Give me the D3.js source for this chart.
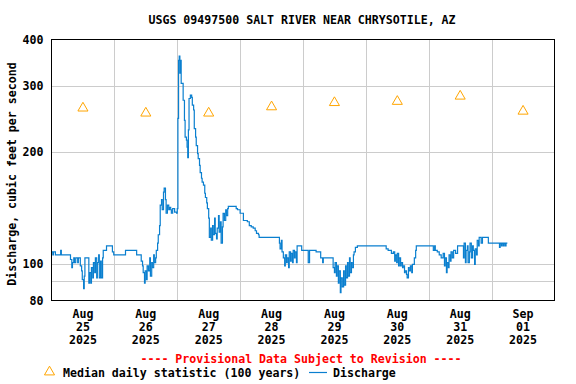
<!DOCTYPE html>
<html>
<head>
<meta charset="UTF-8">
<title>USGS 09497500 Salt River near Chrysotile, AZ</title>
<script src="https://d3js.org/d3.v7.min.js"></script>
<style>
  html, body { margin: 0; padding: 0; background: #fff; }
  svg { display: block; font-family: "DejaVu Sans Mono", "Liberation Mono", monospace; font-weight: bold; font-size: 11.6px; }
  .grid line { stroke: #cccccc; stroke-width: 1; shape-rendering: crispEdges; }
</style>
</head>
<body>
<svg id="chart" width="576" height="384"></svg>
<script>
// --- data ---
const title = "USGS 09497500 SALT RIVER NEAR CHRYSOTILE, AZ";
const startDate = Date.UTC(2025, 7, 25); // Aug 25 2025 00:00
const dayLabels = [["Aug", "25", "2025"], ["Aug", "26", "2025"], ["Aug", "27", "2025"], ["Aug", "28", "2025"],
                   ["Aug", "29", "2025"], ["Aug", "30", "2025"], ["Aug", "31", "2025"], ["Sep", "01", "2025"]];
const yTicks = [80, 100, 200, 300, 400];
const yGrid = [90, 100, 200, 300];
// median daily statistic, one per day (cfs)
const medians = [262, 254, 254, 264, 271, 273, 282, 257];
// discharge: [hours since Aug 25 00:00, cfs]
const discharge = [
  [0,108],[0.5,106],[0.75,108],[1.5,106],[3.5,109],[3.75,106],[7.25,103],[7.75,98],[8,101],[8.5,104],
  [8.75,101],[9.25,104],[10,101],[10.25,104],[11,99],[11.5,96],[11.75,91],[12.25,86],[12.5,93],[12.75,104],
  [14.25,89],[14.5,95],[15,89],[15.25,98],[15.75,92],[16,101],[16.5,95],[16.75,104],[17.25,92],[17.5,101],
  [18,106],[18.25,92],[18.75,102],[19,92],[19.5,104],[19.75,109],[21,112],[23.25,108],[23.75,106],[28.25,109],
  [32.5,106],[34.25,102],[34.75,99],[35,95],[35.5,89],[35.75,96],[36.25,91],[36.5,99],[37,96],[37.5,104],
  [37.75,93],[38.25,101],[38.5,98],[39,106],[39.25,101],[39.75,104],[40,109],[40.5,114],[40.75,120],[41.25,127],
  [41.5,144],[42,149],[42.25,140],[42.75,156],[43,160],[43.5,149],[43.75,137],[44.25,144],[44.75,140],[45,142],
  [45.5,140],[45.75,137],[46.25,141],[47,138],[47.75,137],[48,141],[48.25,246],[48.5,352],[48.75,361],[49,325],
  [49.25,352],[49.5,305],[50.25,275],[50.75,243],[51,219],[51.5,215],[51.75,206],[52,193],[52.25,229],[52.5,278],
  [53,284],[53.5,280],[53.75,267],[54.25,259],[54.5,231],[55,219],[55.25,208],[55.75,198],[56,192],[56.5,184],
  [56.75,176],[57.25,170],[57.5,166],[58,163],[58.5,155],[58.75,151],[59.25,146],[59.5,141],[60,133],[60.25,118],
  [60.75,125],[61,116],[61.5,127],[61.75,120],[62.25,133],[62.5,121],[63,117],[63.25,125],[63.75,135],[64,122],
  [64.5,130],[64.75,114],[65.25,126],[65.5,137],[66,131],[66.5,140],[66.75,135],[67.25,141],[67.5,143],[70.5,141],
  [71,140],[72,137],[73.25,131],[74.75,130],[75.5,127],[76.25,126],[77,125],[77.75,123],[78.25,121],[79,120],
  [79.25,118],[87,114],[87.25,110],[87.75,116],[88,108],[88.5,104],[89,99],[89.25,106],[89.75,101],[90,104],
  [90.5,98],[90.75,108],[91.25,102],[91.5,107],[92,101],[92.25,109],[92.75,104],[93,108],[93.5,101],[93.75,112],
  [95.5,109],[98,101],[98.5,109],[101,108],[102.75,104],[103.5,101],[103.75,104],[107.5,98],[108,95],[108.25,101],
  [108.75,93],[109,99],[109.5,89],[109.75,96],[110.25,84],[110.5,92],[111,87],[111.5,96],[111.75,88],[112.25,99],
  [112.5,92],[113,101],[113.25,93],[113.75,104],[114,95],[114.5,101],[114.75,98],[115.25,106],[115.5,108],[116,111],
  [116.75,112],[127.75,110],[128.5,109],[129.75,107],[130.5,108],[131,102],[131.25,106],[131.75,101],[132,107],[132.5,99],
  [132.75,104],[133.25,99],[133.5,101],[134,98],[134.25,99],[134.75,95],[135,96],[135.5,94],[135.75,92],[136.25,98],
  [136.5,96],[137,99],[137.5,95],[137.75,100],[138.5,104],[139,109],[139.25,112],[145.75,109],[146.25,112],[146.5,109],
  [147.25,108],[148,106],[148.75,104],[149.5,107],[150,99],[150.25,104],[150.75,95],[151,101],[151.5,98],[151.75,106],
  [152.25,102],[152.5,108],[153,104],[153.5,109],[154.25,107],[155,112],[157.25,104],[157.5,114],[158,101],[158.25,109],
  [158.75,112],[159,101],[159.5,108],[159.75,114],[160.25,104],[160.75,112],[161,109],[161.5,100],[161.75,110],[162.25,106],
  [162.5,116],[163,112],[163.25,118],[164,114],[164.5,118],[166.75,114],[171,111],[171.25,114],[171.75,112],[172,114],
  [172.5,112],[172.75,114],[173.25,112],[173.5,114],[174,114]
];

// --- layout ---
const plot = { left: 51.5, right: 554.5, top: 39.5, bottom: 300.5 };
const HOUR = 3600 * 1000;

const svg = d3.select("#chart");

const x = d3.scaleUtc()
  .domain([new Date(startDate), new Date(startDate + 8 * 24 * HOUR)])
  .range([plot.left, plot.right]);
const y = d3.scaleLog()
  .domain([80, 400])
  .range([plot.bottom, plot.top]);

// grid
const grid = svg.append("g").attr("class", "grid");
const midnights = d3.range(1, 8).map(d => new Date(startDate + d * 24 * HOUR));
grid.selectAll(".vg").data(midnights).enter().append("line")
  .attr("x1", d => Math.round(x(d)) + 0.5).attr("x2", d => Math.round(x(d)) + 0.5)
  .attr("y1", plot.top).attr("y2", plot.bottom);
grid.selectAll(".hg").data(yGrid).enter().append("line")
  .attr("x1", plot.left).attr("x2", plot.right)
  .attr("y1", d => Math.round(y(d)) + 0.5).attr("y2", d => Math.round(y(d)) + 0.5);

// discharge line
const line = d3.line()
  .x(d => x(new Date(startDate + d[0] * HOUR)))
  .y(d => y(d[1]))
  .curve(d3.curveStepAfter);
svg.append("path")
  .datum(discharge)
  .attr("d", line)
  .attr("fill", "none")
  .attr("stroke", "#0a7fcf")
  .attr("stroke-width", 1.2);

// median triangles (noon of each day)
const tri = d3.symbol().type(d3.symbolTriangle).size(44);
svg.selectAll(".med").data(medians).enter().append("path")
  .attr("d", tri)
  .attr("transform", (d, i) => `translate(${x(new Date(startDate + (i * 24 + 12) * HOUR))},${y(d)})`)
  .attr("fill", "none")
  .attr("stroke", "#ffa500")
  .attr("stroke-width", 1);

// frame
svg.append("rect")
  .attr("x", plot.left).attr("y", plot.top)
  .attr("width", plot.right - plot.left).attr("height", plot.bottom - plot.top)
  .attr("fill", "none").attr("stroke", "#000").attr("stroke-width", 1);

// y tick labels
svg.selectAll(".yt").data(yTicks).enter().append("text")
  .attr("x", 43.5).attr("y", d => y(d))
  .attr("dy", "0.35em")
  .attr("text-anchor", "end")
  .text(d => d);

// x tick labels (centred at noon)
const xl = svg.selectAll(".xt").data(dayLabels).enter().append("text")
  .attr("text-anchor", "middle");
xl.each(function (d, i) {
  const cx = x(new Date(startDate + (i * 24 + 12) * HOUR));
  d3.select(this).selectAll("tspan").data(d).enter().append("tspan")
    .attr("x", cx)
    .attr("y", (t, j) => 318 + j * 13)
    .text(t => t);
});

// title
svg.append("text")
  .attr("x", 302).attr("y", 24)
  .attr("text-anchor", "middle")
  .text(title);

// y axis label
svg.append("text")
  .attr("transform", "translate(16,174) rotate(-90)")
  .attr("text-anchor", "middle")
  .text("Discharge, cubic feet per second");

// provisional note
svg.append("text")
  .attr("x", 301).attr("y", 363)
  .attr("text-anchor", "middle")
  .attr("fill", "#ff0000")
  .text("---- Provisional Data Subject to Revision ----");

// legend
svg.append("path")
  .attr("d", tri)
  .attr("transform", "translate(49.5,372)")
  .attr("fill", "none").attr("stroke", "#ffa500");
svg.append("text")
  .attr("x", 63).attr("y", 376.5)
  .text("Median daily statistic (100 years)");
svg.append("line")
  .attr("x1", 309).attr("x2", 327).attr("y1", 372.5).attr("y2", 372.5)
  .attr("stroke", "#0a7fcf").attr("stroke-width", 1.2);
svg.append("text")
  .attr("x", 333).attr("y", 376.5)
  .text("Discharge");
</script>
</body>
</html>
